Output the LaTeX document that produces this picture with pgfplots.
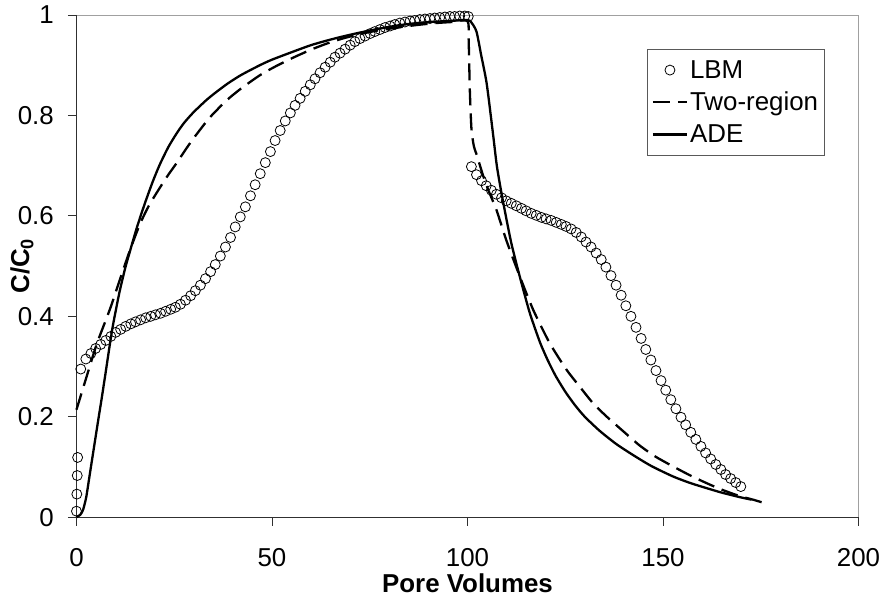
\documentclass[border=0pt]{standalone}
\usepackage{fontspec}
\setmainfont{Liberation Sans}
\usepackage{pgfplots}
\pgfplotsset{compat=1.18}
\definecolor{framegray}{HTML}{A0A0A0}
\definecolor{axisdark}{HTML}{303030}
\begin{document}
\begin{tikzpicture}
\begin{axis}[
  scale only axis, width=782.5bp, height=502.5bp,
  xmin=0, xmax=200, ymin=0, ymax=1,
  xtick={0,50,100,150,200}, ytick={0,0.2,0.4,0.6,0.8,1},
  axis line style={draw=framegray, line width=0.9bp},
  tick align=outside, tick pos=left,
  major tick length=8.5bp,
  tick style={axisdark, line width=0.9bp},
  clip=false,
  /pgf/number format/assume math mode=true,
  /pgf/number format/.cd, fixed, precision=1, /pgfplots/.cd,
  ticklabel style={font=\fontsize{26}{31}\selectfont, inner sep=0pt},
  xticklabel style={anchor=base, yshift=-40.7bp},
  yticklabel style={anchor=east, xshift=-14bp},
  xlabel={\textbf{Pore Volumes}},
  ylabel={\textbf{C/C\textsubscript{0}}},
  every axis x label/.style={at={(axis description cs:0.5,-0.132)}, anchor=center, font=\fontsize{26}{31}\selectfont},
  every axis y label/.style={at={(axis description cs:-0.0697,0.5)}, anchor=center, rotate=90, font=\fontsize{26}{31}\selectfont},
  legend style={at={(0.9566,0.9323)}, anchor=north east, draw=axisdark!80, line width=0.9bp,
    font=\fontsize{26}{31}\selectfont, inner xsep=4bp, inner ysep=9bp, row sep=8.5bp,
    cells={anchor=west}},
  legend image code/.code={\draw[mark repeat=2,mark phase=2] plot coordinates {(0bp,0bp) (17bp,0bp) (34bp,0bp)};},
]
\coordinate (LL) at (rel axis cs:0,0);
\coordinate (UR) at (rel axis cs:1,1);
\draw[axisdark, line width=0.9bp] (rel axis cs:0,1) -- (rel axis cs:0,0) -- (rel axis cs:1,0);

% LBM
\addplot[only marks, mark=o, mark size=5bp, mark options={line width=0.8bp, black}] coordinates {
(0,0.012) (0.1,0.046) (0.2,0.083) (0.3,0.119)
(1.1,0.295) (2.4,0.315) (3.7,0.326) (4.9,0.336) (6.2,0.344) (7.5,0.352) (8.8,0.360)
(10.0,0.368) (11.3,0.374) (12.6,0.380) (13.9,0.385) (15.1,0.389) (16.4,0.393) (17.7,0.397)
(19.0,0.400) (20.2,0.403) (21.5,0.406) (22.8,0.410) (24.1,0.414) (25.3,0.418) (26.6,0.424)
(27.9,0.432) (29.2,0.441) (30.4,0.451) (31.7,0.462) (33.0,0.475) (34.3,0.489) (35.5,0.503)
(36.8,0.520) (38.1,0.538) (39.4,0.557) (40.6,0.578) (41.9,0.598) (43.2,0.618) (44.5,0.640)
(45.7,0.662) (47.0,0.684) (48.3,0.706) (49.6,0.728) (50.8,0.750) (52.1,0.770) (53.4,0.789)
(54.7,0.805) (55.9,0.820) (57.2,0.834) (58.5,0.848) (59.8,0.861) (61.0,0.873) (62.3,0.885)
(63.6,0.896) (64.9,0.906) (66.1,0.916) (67.4,0.924) (68.7,0.932) (70.0,0.940) (71.2,0.947)
(72.5,0.953) (73.8,0.958) (75.1,0.963) (76.3,0.967) (77.6,0.971) (78.9,0.975) (80.2,0.978)
(81.4,0.981) (82.7,0.984) (84.0,0.986) (85.3,0.988) (86.5,0.989) (87.8,0.991) (89.1,0.992)
(90.4,0.993) (91.6,0.994) (92.9,0.995) (94.2,0.996) (95.5,0.997) (96.7,0.997) (98.0,0.998)
(99.3,0.998) (100.2,0.997)
(101.0,0.698) (102.3,0.682) (103.6,0.670) (104.8,0.660) (106.1,0.651) (107.4,0.643)
(108.7,0.636) (109.9,0.630) (111.2,0.625) (112.5,0.620) (113.8,0.615) (115.0,0.610)
(116.3,0.605) (117.6,0.601) (118.9,0.597) (120.1,0.594) (121.4,0.591) (122.7,0.587)
(124.0,0.583) (125.2,0.579) (126.5,0.574) (127.8,0.567) (129.1,0.558) (130.3,0.548)
(131.6,0.538) (132.9,0.526) (134.2,0.513) (135.4,0.498) (136.7,0.481) (138.0,0.462)
(139.3,0.442) (140.5,0.421) (141.8,0.400) (143.1,0.378) (144.4,0.356) (145.6,0.334)
(146.9,0.313) (148.2,0.292) (149.5,0.272) (150.7,0.253) (152.0,0.234) (153.3,0.216)
(154.6,0.199) (155.8,0.184) (157.1,0.169) (158.4,0.155) (159.7,0.141) (160.9,0.128)
(162.2,0.116) (163.5,0.105) (164.8,0.095) (166.0,0.085) (167.3,0.077) (168.6,0.069)
(169.9,0.061)
};
\addlegendentry{LBM}

% Two-region
\addplot[black, line width=2.3bp, dash pattern=on 17bp off 8bp, smooth, tension=0.4] coordinates {
(0,0.214) (2.6,0.280) (5.2,0.345) (8.6,0.415) (11.1,0.473) (13.7,0.532) (16.2,0.583)
(18.5,0.620) (21,0.652) (23.5,0.682) (25.6,0.705) (28,0.733) (30,0.755) (34,0.795)
(38.4,0.830) (42,0.853) (46.9,0.880) (51,0.898) (55.4,0.915) (60,0.931) (64,0.943)
(68,0.953) (72.5,0.962) (77,0.969) (82,0.975) (87,0.980) (92,0.984) (96,0.986) (100,0.988)
(100.3,0.95) (100.6,0.85) (101.0,0.775) (101.6,0.740) (102.5,0.718) (104,0.680)
(105.5,0.648) (107.4,0.612) (110,0.550) (113.4,0.479) (116.8,0.413) (121,0.347)
(125.3,0.294) (128.7,0.260) (132,0.228) (135.5,0.201) (140,0.170) (144,0.143)
(148,0.121) (152.6,0.101) (157,0.083) (161.1,0.068) (165,0.055) (169.6,0.042)
(173,0.035) (176,0.028)
};
\addlegendentry{Two-region}

% ADE
\addplot[black, line width=2.3bp, smooth, tension=0.4] coordinates {
(0,0) (1,0.005) (1.7,0.015) (2.5,0.04) (3.5,0.09) (4.5,0.14) (5.5,0.19) (6.4,0.234)
(7.5,0.29) (8.5,0.342) (9.4,0.385) (11,0.448) (12.5,0.497) (13.7,0.530) (15.5,0.578)
(17.5,0.625) (19.5,0.668) (21.3,0.702) (23.5,0.737) (25.6,0.764) (27.5,0.785) (29.9,0.806)
(33,0.829) (35,0.842) (38.4,0.862) (42,0.880) (46.9,0.900) (50,0.911) (55.4,0.927)
(60,0.940) (64,0.949) (68,0.957) (72.5,0.965) (77.6,0.973) (82,0.979) (86,0.983)
(90.3,0.986) (95,0.988) (100,0.990) (101,0.985) (102.3,0.967) (103.5,0.920)
(104.9,0.864) (106.5,0.765) (107.5,0.700) (108.7,0.645) (110,0.592) (111.2,0.546)
(112.5,0.505) (114.2,0.455) (116,0.405) (118.5,0.349) (120.5,0.313) (122.5,0.282)
(125,0.250) (127.5,0.223) (130,0.200) (133.8,0.172) (138,0.146) (142.3,0.124) (147,0.102)
(152.6,0.081) (157,0.068) (161.1,0.058) (165,0.049) (169.6,0.040) (172.6,0.035)
};
\addlegendentry{ADE}
\end{axis}
\pgfresetboundingbox
\path ([shift={(-76.5bp,-81.5bp)}]LL) rectangle ([shift={(27.5bp,15bp)}]UR);
\end{tikzpicture}
\end{document}
